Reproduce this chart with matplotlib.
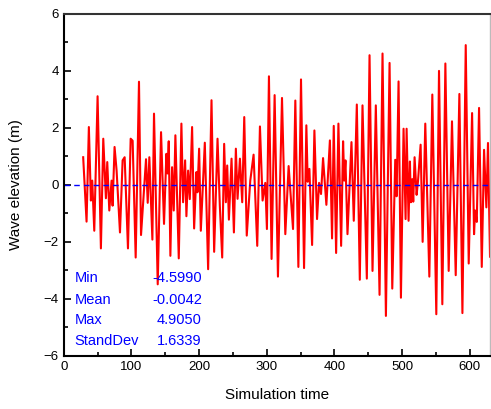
import matplotlib.pyplot as plt
from matplotlib.ticker import MultipleLocator

plt.rcParams['font.family'] = ['Liberation Sans', 'DejaVu Sans']

# turning points of the wave record
t = [28.6, 33.6, 37.0, 40.0, 42.0, 45.0, 49.9, 54.8, 58.3, 62.2,
     64.2, 67.2, 70.6, 72.1, 75.0, 78.0, 83.0, 86.9, 89.9, 94.8,
     98.8, 101.7, 106.2, 111.1, 114.1, 121.5, 124.0, 126.4, 130.9, 133.3,
     138.8, 143.7, 148.1, 151.6, 153.3, 155.1, 157.5, 160.0, 162.5, 164.9,
     169.9, 173.8, 176.3, 179.3, 181.2, 183.7, 186.2, 189.6, 192.6, 196.0,
     197.5, 200.0, 202.5, 208.4, 213.3, 218.3, 222.2, 227.2, 230.6, 234.1,
     237.0, 239.5, 241.5, 244.0, 247.9, 251.4, 254.3, 256.8, 260.3, 263.7,
     266.7, 270.4, 275.6, 280.5, 285.9, 289.9, 293.8, 297.8, 300.2, 303.2,
     307.1, 311.6, 316.5, 322.5, 327.4, 332.3, 338.8, 342.2, 346.7, 350.6,
     355.1, 358.5, 360.5, 363.0, 367.0, 370.4, 374.3, 377.3, 380.2, 383.2,
     388.1, 393.3, 396.5, 399.0, 402.5, 405.9, 409.9, 412.8, 414.5, 416.3,
     419.3, 425.2, 428.6, 433.1, 437.5, 441.5, 447.9, 451.9, 456.3, 461.2,
     466.7, 471.1, 476.1, 481.5, 485.5, 489.9, 491.9, 494.8, 498.3, 502.2,
     505.2, 506.7, 509.6, 511.6, 513.0, 515.0, 516.5, 518.5, 521.5, 523.5,
     527.4, 530.4, 534.3, 540.3, 544.7, 550.6, 554.6, 559.5, 564.0, 568.9,
     573.8, 579.3, 584.7, 589.2, 594.1, 598.5, 603.5, 606.4, 608.0, 610.4,
     613.8, 617.8, 621.2, 623.0, 624.6, 627.0, 630.0]
eta = [0.97, -1.29, 2.03, -0.55, 0.15, -1.61, 3.11, -2.23, 1.62, -0.47,
       0.80, -0.90, 0.15, -0.73, 1.33, 0.50, -1.67, 0.86, 0.97, -2.23,
       1.62, 1.55, -2.55, 3.62, -1.76, 0.90, -0.63, 0.97, -1.92, 2.50,
       -3.49, 1.85, -1.37, 1.09, 0.40, 1.53, -2.49, 0.62, -0.90, 1.74,
       -2.58, 2.15, -0.61, 0.86, -1.10, 0.50, -0.50, 2.03, -1.53, 0.45,
       -0.26, 1.27, -1.61, 1.48, -2.96, 2.97, -2.35, 1.62, -0.73, -2.55,
       1.44, -0.61, 0.68, -1.22, 0.92, -1.67, 1.27, -0.49, 0.92, -0.61,
       2.38, -1.78, 0.15, 1.06, -2.14, 2.05, -0.55, 0.07, -1.55, 3.81,
       -2.60, 3.15, -3.22, 3.05, -1.73, 0.66, -1.55, 2.96, -2.88, 3.70,
       -2.92, 2.09, 0.11, 0.56, -2.11, 1.91, -1.20, 0.07, -0.32, 0.94,
       -0.70, 1.56, -1.88, 2.07, -2.39, 2.15, -2.14, 1.53, 0.15, 0.86,
       -1.73, 1.50, -1.26, 2.82, -3.33, 2.79, -3.29, 4.55, -3.02, 2.79,
       -3.86, 4.61, -4.599, 4.28, -3.64, 0.88, -0.40, 3.63, -3.96, 1.97,
       -1.20, 1.97, -1.26, 0.82, -0.61, 0.20, -0.59, 0.97, -0.35, 0.12,
       1.41, -2.00, 2.15, -3.22, 3.17, -4.54, 4.00, -4.19, 4.26, -3.02,
       2.23, -3.17, 3.19, -4.50, 4.905, -2.76, 2.52, -1.73, -0.90, -1.30,
       2.70, -2.88, 1.23, 0.20, -0.79, 1.47, -2.52]

stat_names = ["Min", "Mean", "Max", "StandDev"]
stat_values = ["-4.5990", "-0.0042", "4.9050", "1.6339"]

fig = plt.figure(figsize=(4.91, 4.09), dpi=100)
ax = fig.add_axes([0.130, 0.130, 0.868, 0.836])

ax.plot(t, eta, color='red', linewidth=1.5, solid_joinstyle='round')
ax.axhline(0, color='blue', linestyle='--', linewidth=1.0, dashes=(4, 3))

ax.set_xlim(0, 630)
ax.set_ylim(-6, 6)
ax.xaxis.set_major_locator(MultipleLocator(100))
ax.xaxis.set_minor_locator(MultipleLocator(50))
ax.yaxis.set_major_locator(MultipleLocator(2))
ax.yaxis.set_minor_locator(MultipleLocator(1))
ax.tick_params(which='both', direction='in', top=False, right=False,
               labelsize=9.5, width=1.2)
ax.tick_params(which='major', length=5)
ax.tick_params(which='minor', length=3)
for side in ['left', 'bottom']:
    ax.spines[side].set_linewidth(1.5)
ax.spines['top'].set_linewidth(1.5)
ax.spines['top'].set_color('#333333')
ax.spines['right'].set_linewidth(1.0)
ax.spines['right'].set_color('#bbbbbb')

ax.set_xlabel("Simulation time", fontsize=11, labelpad=11)
ax.set_ylabel("Wave elevation (m)", fontsize=11, labelpad=15)

ys = [-3.27, -4.05, -4.76, -5.49]
for name, val, y in zip(stat_names, stat_values, ys):
    ax.text(16, y, name, color='blue', fontsize=10.5, va='center', ha='left')
    ax.text(204, y, val, color='blue', fontsize=10.5, va='center', ha='right')

fig.savefig("out.png", dpi=100)
